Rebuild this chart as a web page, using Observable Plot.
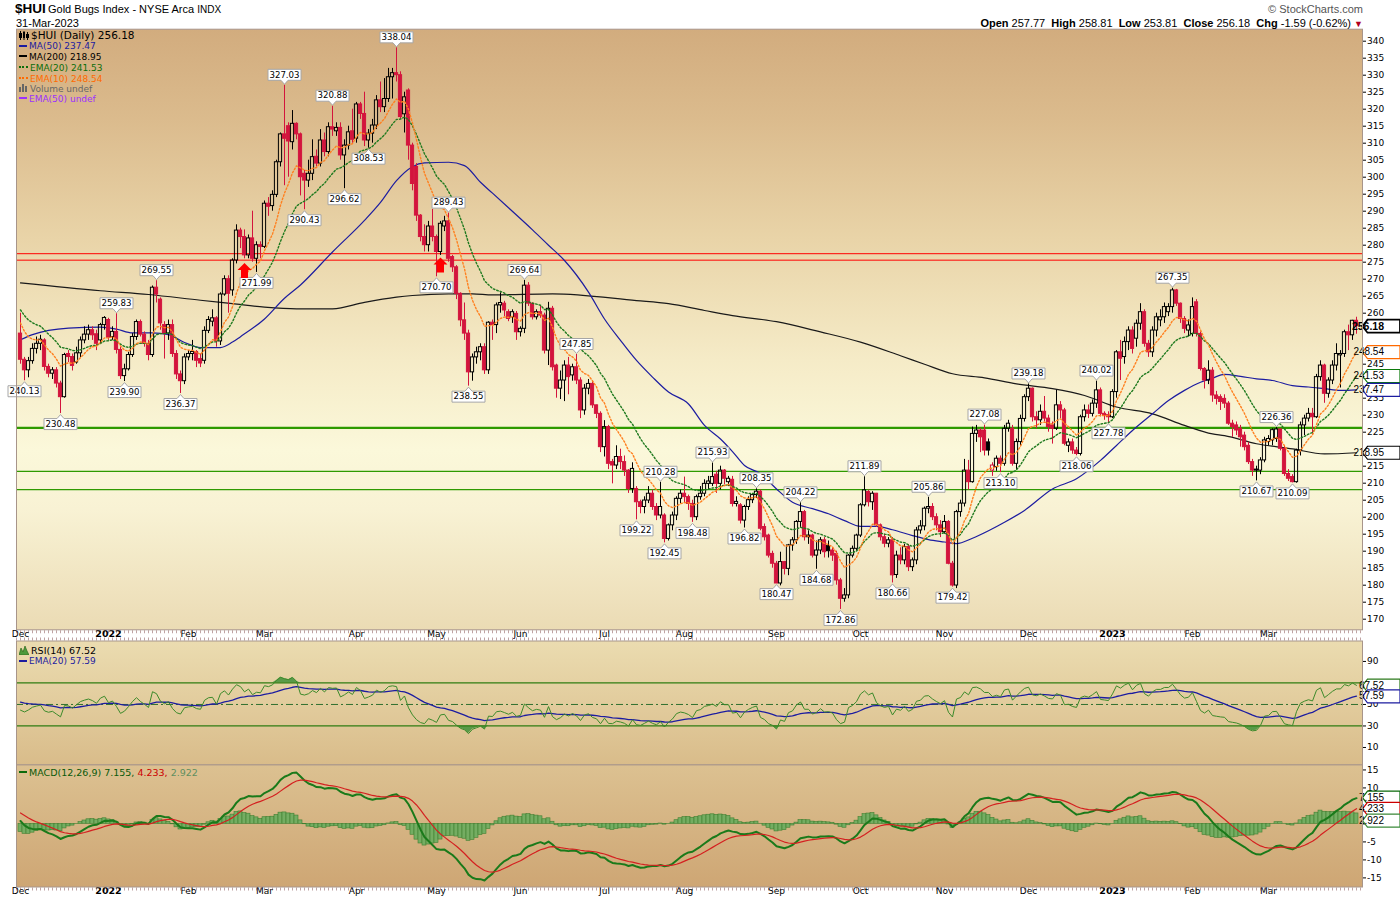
<!DOCTYPE html>
<html>
<head>
<meta charset="utf-8">
<script src="https://cdn.jsdelivr.net/npm/d3@7"></script>
<script src="https://cdn.jsdelivr.net/npm/@observablehq/plot@0.6"></script>
<style>
  html,body{margin:0;padding:0;background:#fff;}
  #wrap{position:relative;width:1400px;height:900px;overflow:hidden;font-family:"Liberation Sans",Arial,sans-serif;color:#000;}
  .t{position:absolute;white-space:nowrap;line-height:1;}
  .lg{font-family:"DejaVu Sans",Verdana,sans-serif;font-size:9px;}
  .ln{display:inline-block;width:8px;height:0;border-top:2px solid;vertical-align:middle;margin-right:2px;position:relative;top:-1px;}
  .dt{display:inline-block;width:9px;height:0;border-top:2px dotted;vertical-align:middle;margin-right:2px;position:relative;top:-1px;}
  .ic{display:inline-block;vertical-align:middle;margin-right:2px;position:relative;top:-1px;}
</style>
</head>
<body>
<svg width="0" height="0" style="position:absolute">
  <defs>
    <linearGradient id="gMain" x1="0" y1="0" x2="0" y2="1">
      <stop offset="0" stop-color="#d2ac7e"/>
      <stop offset="0.15" stop-color="#dbbb8d"/>
      <stop offset="0.35" stop-color="#e9d4a8"/>
      <stop offset="0.55" stop-color="#f5ebc7"/>
      <stop offset="0.7" stop-color="#fbf8da"/>
      <stop offset="0.8" stop-color="#f8f2d4"/>
      <stop offset="1" stop-color="#ebdbb4"/>
    </linearGradient>
    <linearGradient id="gRsi" x1="0" y1="0" x2="0" y2="1">
      <stop offset="0" stop-color="#ebdcb0"/>
      <stop offset="1" stop-color="#d9bc8a"/>
    </linearGradient>
    <linearGradient id="gMacd" x1="0" y1="0" x2="0" y2="1">
      <stop offset="0" stop-color="#dcc191"/>
      <stop offset="1" stop-color="#cea674"/>
    </linearGradient>
  </defs>
</svg>
<div id="wrap">
  <div class="t" style="left:15px;top:2px;font-size:13.5px;font-weight:bold;">$HUI</div>
  <div class="t" style="left:48px;top:4px;font-size:11px;">Gold Bugs Index - NYSE Arca <span style="font-size:10px">INDX</span></div>
  <div class="t" style="left:16px;top:17.5px;font-size:11px;">31-Mar-2023</div>
  <div class="t" style="right:37px;top:4px;font-size:11px;color:#555;">&#169; StockCharts.com</div>
  <div class="t" style="right:37px;top:17.5px;font-size:11px;"><b>Open</b> 257.77&nbsp; <b>High</b> 258.81&nbsp; <b>Low</b> 253.81&nbsp; <b>Close</b> 256.18&nbsp; <b>Chg</b> -1.59 (-0.62%) <span style="color:#b00020;font-size:9px">&#9660;</span></div>

  <div class="t" style="left:19px;top:30px;font-family:'DejaVu Sans',sans-serif;font-size:10.5px;"><svg class="ic" width="10" height="9"><rect x="0.5" y="2.5" width="2" height="4" fill="none" stroke="#000"/><line x1="1.5" y1="0" x2="1.5" y2="9" stroke="#000"/><rect x="4" y="1" width="2" height="6" fill="#000"/><line x1="5" y1="0" x2="5" y2="9" stroke="#000"/><rect x="7.5" y="3.5" width="2" height="3" fill="none" stroke="#000"/><line x1="8.5" y1="1" x2="8.5" y2="9" stroke="#000"/></svg>$HUI (Daily) 256.18</div>
  <div class="t lg" style="left:19px;top:42px;color:#1c1ca0;"><span class="ln" style="border-color:#1c1ca0"></span>MA(50) 237.47</div>
  <div class="t lg" style="left:19px;top:52.5px;color:#000;"><span class="ln" style="border-color:#000"></span>MA(200) 218.95</div>
  <div class="t lg" style="left:19px;top:63.5px;color:#0b6e0b;"><span class="dt" style="border-color:#0b6e0b"></span>EMA(20) 241.53</div>
  <div class="t lg" style="left:19px;top:74.5px;color:#ff6a00;"><span class="dt" style="border-color:#ff6a00"></span>EMA(10) 248.54</div>
  <div class="t lg" style="left:19px;top:84.5px;color:#666;"><svg class="ic" width="9" height="8"><rect x="0" y="3" width="2" height="5" fill="#666"/><rect x="3" y="0" width="2" height="8" fill="#666"/><rect x="6" y="2" width="2" height="6" fill="#666"/></svg>Volume undef</div>
  <div class="t lg" style="left:19px;top:94.5px;color:#9b30ff;"><span class="ln" style="border-color:#9b30ff"></span>EMA(50) undef</div>

  <div class="t lg" style="left:19px;top:646px;color:#000;font-size:9.5px;"><svg class="ic" width="10" height="9"><path d="M0,9 L2,2 L4,6 L6,0 L8,5 L10,9 Z" fill="#4c9a3c" stroke="#2c6a1c" stroke-width="0.7"/></svg>RSI(14) 67.52</div>
  <div class="t lg" style="left:19px;top:657px;color:#1c1ca0;"><span class="ln" style="border-color:#1c1ca0"></span>EMA(20) 57.59</div>
  <div class="t lg" style="left:19px;top:767.5px;font-size:9.5px;"><span class="ln" style="border-color:#0a6a0a"></span><span style="color:#0a5a0a">MACD(12,26,9) 7.155,</span> <span style="color:#cc0000">4.233,</span> <span style="color:#5f8f5f">2.922</span></div>
</div>
<script>
// ---------------- DATA ----------------
// trading-day index 0 = 1 Dec 2021 ... 334 = 31 Mar 2023
const monthIdx = [0,22,42,61,84,104,125,146,166,189,210,231,252,273,293,312];
const monthLbl = ["Dec","2022","Feb","Mar","Apr","May","Jun","Jul","Aug","Sep","Oct","Nov","Dec","2023","Feb","Mar"];

const opens = [
254,246.3,243.2,245.9,249.5,251,252,244.2,242.2,243.2,
239.3,235.3,248,247.1,245.5,248.2,252,253.7,255,253.8,
252,256.5,258,253,254.5,249.2,241.5,243.5,247.7,253,
257.4,253.7,251,247.7,267.5,264,256.5,254,256.5,248,
242,240,247,248,248.6,246.5,246,254.8,257.5,258.5,
251.7,265.5,270,266.7,275.5,284.3,282.4,277,282,276,
280,279.5,292.2,291.5,294.8,304.4,312.6,315,310.3,315.7,
312.6,301,299,301,306,304,310.8,307.4,314.7,313.5,
314.5,306.4,309.3,313.5,311.3,321.4,318.6,310.8,312.8,315.2,
322.6,320.6,323,329.4,330.6,330,318.5,325.5,309.3,303,
288.7,282.4,280,285.5,282.4,278,285.5,287,276.5,273.5,
265.7,257.9,254,242.6,247,248.5,250,243.2,257.2,256.5,
262.3,262.8,260.3,258.8,259.8,254.4,255.4,268.1,262.8,258.8,
260.3,259.3,249,261.3,244.6,237.8,240.2,244.6,241.7,244.1,
240.2,231.4,237.8,239.2,232.9,230.4,220.6,226.5,216.2,215.2,
217.7,216.2,213.7,208.3,208.3,204.4,203,204.9,206.9,203,
200.5,200.5,193.6,197.6,200.5,205.4,206.9,205.9,203.9,200,
205.9,206.9,209.8,209.8,212.5,209.8,213.7,210.3,211,203.9,
203.5,199,203,205,206.5,207.5,197.1,194.6,189.2,186.3,
180.5,186.8,184.8,191.7,193.2,198.6,201.5,194.6,194.6,188.7,
190.2,193.2,191.5,190.2,189.2,181.4,176,177,188.7,190.7,
194.6,203.5,207.4,204.4,206.9,197.6,194.1,192.2,193.2,183,
188.7,187.3,191.2,185.3,187.3,196.1,197.3,202.5,203,200,
197.6,195.6,198.6,186.3,179.9,201.5,204,213.7,210.3,224.5,
225.5,225.5,222,213.7,214.7,217.2,215.7,226,226,215.7,
222.1,228.9,235.3,237.8,229.4,228.5,231,229,227,226,
232.9,231.4,221,222,219.6,218.6,229.4,231.4,230.4,233.4,
237.3,230.4,230,229.4,236.8,248.5,247.1,251.5,254.9,252.5,
256.9,260.3,251,248.5,254.9,257.9,258.8,260.3,261.8,266.7,
262.8,258.3,254.9,253.9,263.2,253.9,243.6,240.2,243.1,235.8,
235.3,234.8,233.4,227.5,227,226,224,221,216.2,213.7,
213.7,216.7,222.1,222.6,223,225.8,220.1,212.7,211.8,210.3,
219.6,227,229,230.4,229.4,241.2,244.6,236.3,240.2,244.6,
247.6,248,254.4,253.5,257.77];

const highs = [
260,247,247,251,253,253.5,252.5,245,244,244,
240,248.2,249,248,250,253,256,256.5,256,255,
257,259,258.5,256,259.83,250,245,248.5,254,258,
258,254.5,252,268,269.55,264.5,257.5,258,258,249,
243,248,249,252,249,248,256,259,261,259,
266,271,271,276,286,285,284.5,283,290,281,
281,293,294,296,305,313,327.03,316,319.6,316,
313,302,305,311,308,314,313,316,320.88,316,
316,311,315,320,322,322,325,314,317,324,
328,329,332,332,338.04,331,325,326,310,304,
289,286,287,290.5,283,287,288.5,289.43,277,274,
266,263,255,248,250,251,251,257.5,258,263,
266,263.5,261,261,260.5,256,269.64,269,263,261,
262,260,263.2,262,245,243,246,247,245,247.85,
241,239,240.5,240,233,231,228.4,227,217,221,
220,218,214,216,209,205,206,209,208,204,
210.28,201,198,201.5,206,208,211.8,206.5,205,206.5,
209,211,212,215.93,213.5,215,214,212,212,206,
204,203.5,206,207,208.35,208,198,195,190,187,
189.7,187,192,194,199,204.22,202,196,195,193,
194,194,193,191,190,182,179,189,191.5,195,
204,211.89,208,207.5,207,198,195,194,194,190,
191,192,192,188,197,199,203,205.86,204,201,
199,200.5,199,187,202,205,217,216.7,226.5,227,
226,227.08,223,216,218,218,227,228.5,227,223,
230,236,239.18,238,231,233,235.5,230,228,237.3,
234,232,223,223,220.5,230,233,233,234.5,240.02,
238,231,231,237.5,249,252,253,256,256,258,
262.8,261,252,256,260,261,263,262.8,267.35,267,
263,259,258,264.5,264,254.5,244,246,244,237,
236,236,234,228.5,228,227,225,222,217,215,
217.5,223.5,224,226,226.36,226,221,214,212.5,220,
228,230,232,232,242,246,245,241,246,251,
249,255,256.5,257.9,258.81];

const lows = [
245,240.13,241,245,248,249,243,241,240.5,238,
230.48,235,245.5,243,245,247,251,252,252,249,
251,255,252,252,248,240.5,239.9,243,247,252,
253,250,246,247,263,255,246.5,252,247,240.5,
236.37,239,246,246,244,244,245,254,256,250,
250.5,265,260,265,274.5,279,276,276,275,271.99,
276,279,288.5,290,294,303,297.5,300,308,311,
294.5,290.43,297,299,303,303,306,306,312,312,
305,296.62,308,310,310,317,309,308.53,310,314,
319,319,322,323,328,317,313,305,296,287,
281,278,278,281,270.7,277,284,275,272,264,
256,252,238.55,240,245,246,242,242,252,254,
260,259,257.5,257,252,253,254,262,258,258,
258.5,248,244.6,243,235,234.6,234,236,240,239,
229,230,236,232,229,219,217.7,214,209.8,214,
214,212,207,207,199.22,201,201,204,202,199,
199.5,192.45,193,196,199,204,204,202,198.48,199,
205,206,208,209,207,208,209.5,209,203,203,
198,196.82,202,204,205.5,196,193,188,185,180.47,
179.8,183,182.8,190,192,197,193,192,188,184.68,
189,188,188,187,180,172.86,175,176,188,190,
194,203,203,202,197,193,191,191,180.66,182,
186,186,184,184,186,195,196,201,199,196,
194,195,186,179.42,179,200,203,208,210,222,
219,218,218,212,213.5,213.1,215,225,215,214,
221,228,234,228,226,227,228,225,221.5,225.5,
229,221,219,218.5,218.06,218,228,229,229.5,232,
229.5,228.5,227.78,229,235,240.2,245,249,248,250,
255,250,247,247,253,256,257,259,260,262,
257,254,253,253,253,243,237.7,239,233.8,233,
231.4,232,227,223.5,224,220.6,219.5,215.5,212,210.67,
212.5,216,221,221,222,219.5,212,210.5,210.09,210,
218,224,228,224,229,240,233.5,235,239,243,
238,247,249,252,253.81];

const closes = [
246.3,243.2,245.9,249.5,251,252.2,244.2,242.2,243.2,239.3,
235.3,247.7,247.1,244.5,248.2,252,253.7,255,253.5,251,
256.5,258.6,252.8,254.5,249.2,241.5,243.5,247.7,253,257.4,
253.7,251,247.7,267.5,265.5,257,254,256.5,248,242,
240,247,248,248.6,246,245.2,254.8,258,258.5,251.7,
265.5,270,265.7,275.5,284.3,282.4,277,282,276,280,
279.5,292.2,291.3,294.8,304.4,312.6,311.3,310.5,315.7,312.6,
300,299,301,305.9,304,310.8,307.4,314.7,314,314.5,
306.4,309.3,313.2,311,321.4,318.6,310.8,312.8,315.2,322.6,
320.6,323,329.4,330.6,330,317.7,323.5,309.3,298,288.7,
282.4,280,285.5,282.4,278,286.3,287,276,273.5,265.7,
257.9,254,242.6,247,248.5,250,243.2,257.2,256.5,262.3,
263,260.8,258.3,260.3,254.4,255.4,268.1,262.8,258.8,260.3,
259.3,249,261.3,244.1,237.8,240.2,244.6,241.2,244.1,240.2,
231.4,237.8,239.2,232.9,230.4,220.6,226.5,215.7,215.2,217.7,
216.2,213.7,208.3,214.2,204.4,203,204.9,206.9,203,200.5,
203,193.6,197.6,200.5,205.4,206.9,205.9,203.9,200,205.9,
206.9,209.8,210.5,211.8,209.8,213.7,211.3,211.3,203.9,204.5,
199,203,205,206.5,207.5,196.6,194.1,188.7,186.3,180.5,
186.8,184.8,191.7,193.2,198.6,201.5,194.1,194.1,188.7,190.2,
193.2,189.7,190,188.7,181.4,176,177,188.7,190.7,194.6,
203.5,207.9,204.4,206.9,197.6,194.1,192.2,193.2,182.9,188.7,
187.3,191.2,185.3,187.3,196.1,197.3,202.5,203,200,197.6,
195.6,198.6,186.3,179.9,201.5,204,213.7,210.3,224.5,225.5,
223.5,219.6,219.6,215.2,217.2,215.7,226,227.5,215.7,222.1,
228.9,235.3,237.8,229.4,228.5,231,229,226.5,226,232.9,
231.4,221.6,222,219.6,218.6,229.4,231.4,230.4,233.4,237.3,
230.4,229.9,229.4,236.8,248.5,246.6,251.5,254.9,249.5,256.9,
260.3,251,248.5,254.9,258.8,258.8,261.8,261.8,266.7,262.8,
258.3,255.4,256.4,261.8,253.9,243.6,240.2,243.1,235.8,234.8,
233.9,233.4,227.5,226.5,225.5,223.5,220.6,216.2,213.7,214,
216.7,222.6,223,225.6,225.8,220.1,212.7,211.3,210.3,219.6,
227,229,230.4,229.4,241.2,244.6,236.3,240.2,244.6,248,
248,254.4,253.5,257.77,256.18];

// moving averages (index, value)
const ma50Idx = [0,3,12,20,24,28,33,37,41,45,50,53,55,61,66,70,78,86,90,94,98,101,107,111,115,118,122,128,132,136,142,146,150,154,158,162,167,171,175,178,181,185,189,193,198,202,206,210,214,218,223,227,231,234,238,242,246,251,258,264,270,274,278,283,287,291,295,298,301,305,309,313,318,322,326,330,334];
const ma50Val = [252.2,253.7,255.6,255.9,255.3,254.2,254.2,253.7,251.4,249.9,249.9,251.5,253.1,258.3,264.4,268.3,278,287.3,292.6,299,303.1,304.2,304.4,303.4,298.5,295.3,291,284.5,280,275.5,266.2,258.3,252,246.1,241.2,236.8,233.3,227,223,219.3,215.2,212.8,208.3,204.4,202.5,201,199,197.3,197.3,196.3,194.6,193.4,192.7,192.2,193.8,196,198.5,202,208.3,211.3,216.7,221.1,225.5,230.4,234.3,237.3,239.7,240.9,242,241.4,240.7,240.2,238.7,238.3,237.8,237.3,237.47];
const ma200Idx = [0,20,32,45,53,61,69,78,86,94,98,107,113,118,133,154,162,171,178,189,200,210,220,226,233,241,249,258,266,274,283,291,298,301,309,318,326,334];
const ma200Val = [268.9,266.6,265.5,263.8,262.8,261.8,261.3,261.3,263.2,264.7,265.2,265.7,265.7,265.4,265.7,263.7,262.8,260.8,259.3,257.5,254.5,251.5,247.5,245,242.2,241,239.2,237.8,235.8,232.4,230.4,227,224.5,224,221.6,220.1,218.6,218.95];

// starting states of the indicators just before the first visible day
const prevClose0 = 253;
const seedEMA10 = 259.5, seedEMA20 = 262.5;
const seedEMA12 = 259.5, seedEMA26 = 257.5, seedSignal = 3.6;
const seedGain = 3.0, seedLoss = 3.2, seedRsiEma = 53;

// price annotations
const hiIdx = [24,34,66,78,94,107,126,139,160,173,184,195,211,227,241,252,269,288,314];
const loIdx = [1,10,26,40,59,71,81,87,104,112,154,161,168,181,189,199,205,218,233,245,264,272,309,318];
const arrowIdx = [56,105];
const arrowTip = [274.8,276.4];
const redLevels = [277.5,275.6];
const greenThick = [226.3];
const greenThin = [213.5,208.1];

// axis labels that are not hidden behind the value tags
const mainTicks = [170,175,180,185,190,195,200,205,210,215,225,230,235,245,260,265,270,275,280,285,290,295,300,305,310,315,320,325,330,335,340];
const rsiTicks = [10,30,50,90];
const macdTicks = [-15,-10,-5,0,10,15];

const mainTagVals = [256.18,248.54,241.53,237.47,218.95];
const mainTagCols = ["#000","#ff6a00","#0b7a0b","#1c1ca0","#000"];
const rsiTagVals = [67.52,57.59];
const rsiTagCols = ["#2c7a1c","#1c1ca0"];
const macdTagVals = [7.155,4.233,2.922];
const macdTagPos = [7.3,4.2,0.9];
const macdTagCols = ["#0a6a0a","#cc0000","#3a8a3a"];

// ---------------- derived ----------------
const RED = "#d3143d";
function ema(vals, n, seed){ const k = 2/(n+1); let p = seed; return vals.map(v => (p = p + k*(v - p))); }
function rsi(vals, n, prev, g0, l0){
  let ag = g0, al = l0, pc = prev;
  return vals.map(v => { const ch = v - pc; pc = v; ag = (ag*(n-1) + Math.max(ch,0))/n; al = (al*(n-1) + Math.max(-ch,0))/n; return 100 - 100/(1 + ag/al); });
}
const candles = closes.map((c,i) => {
  const o = opens[i], pc = i ? closes[i-1] : prevClose0, red = c < pc;
  let top = Math.max(o,c), bot = Math.min(o,c);
  if (top - bot < 0.3) { const m = (top+bot)/2; top = m + 0.15; bot = m - 0.15; }
  return {i, o, c, h: Math.max(highs[i], top), l: Math.min(lows[i], bot), top, bot,
          col: red ? RED : "#000", fill: c < o ? (red ? RED : "#000") : "none"};
});
const e10 = ema(closes,10,seedEMA10), e20 = ema(closes,20,seedEMA20);
const emaData = closes.map((c,i)=>({i, e10:e10[i], e20:e20[i]}));
const ma50 = ma50Idx.map((i,k)=>({i, v:ma50Val[k]}));
const ma200 = ma200Idx.map((i,k)=>({i, v:ma200Val[k]}));
const rsiV = rsi(closes,14,prevClose0,seedGain,seedLoss);
const rsiE = ema(rsiV,20,seedRsiEma);
const rsiData = rsiV.map((r,i)=>({i, r, e: rsiE[i]}));
const m12 = ema(closes,12,seedEMA12), m26 = ema(closes,26,seedEMA26);
const macd = m12.map((v,i)=>v - m26[i]);
const sig = ema(macd,9,seedSignal);
const macdData = macd.map((m,i)=>({i, m, s: sig[i], h: m - sig[i]}));
const hiLabels = hiIdx.map(i=>({i, v: highs[i]}));
const loLabels = loIdx.map(i=>({i, v: lows[i]}));
const arrows = arrowIdx.map((i,k)=>({i, v: arrowTip[k]}));
const months = monthIdx.map((i,k)=>({i, t: monthLbl[k], year: /^\d{4}$/.test(monthLbl[k])}));
const mainTags = mainTagVals.map((v,k)=>({v, col: mainTagCols[k], k}));
const rsiTags = rsiTagVals.map((v,k)=>({v, col: rsiTagCols[k]}));
const macdTags = macdTagVals.map((v,k)=>({v, p: macdTagPos[k], col: macdTagCols[k]}));

// custom shapes (pixel space, relative to the anchor point)
const hiBox = {draw(c){ c.moveTo(0,-1); c.lineTo(3.5,-5); c.lineTo(16.5,-5); c.lineTo(16.5,-16); c.lineTo(-16.5,-16); c.lineTo(-16.5,-5); c.lineTo(-3.5,-5); c.closePath(); }};
const loBox = {draw(c){ c.moveTo(0,1); c.lineTo(3.5,5); c.lineTo(16.5,5); c.lineTo(16.5,16); c.lineTo(-16.5,16); c.lineTo(-16.5,5); c.lineTo(-3.5,5); c.closePath(); }};
const upArrow = {draw(c){ c.moveTo(0,0); c.lineTo(7,7); c.lineTo(3.5,7); c.lineTo(3.5,15); c.lineTo(-3.5,15); c.lineTo(-3.5,7); c.lineTo(-7,7); c.closePath(); }};
const tagShape = {draw(c){ c.moveTo(0,0); c.lineTo(5,-6.5); c.lineTo(37.5,-6.5); c.lineTo(37.5,6.5); c.lineTo(5,6.5); c.closePath(); }};

const FONT = "DejaVu Sans, Verdana, sans-serif";
const TAGFONT = "Liberation Sans, Arial, sans-serif";
const baseStyle = {background:"transparent", overflow:"visible", fontFamily: FONT, fontSize:"9px", color:"#000"};
const XD = [-1, 335.5];
const FRAME = "#a8958a";

// ---------------- MAIN PANEL ----------------
const mainPlot = Plot.plot({
  width: 1400, height: 645,
  marginTop: 28.7, marginBottom: 15.7, marginLeft: 16, marginRight: 38,
  x: {domain: XD, axis: null},
  y: {domain: [166.88, 343.53]},
  color: {type: "identity"},
  style: baseStyle,
  marks: [
    Plot.frame({fill: "url(#gMain)", stroke: "none"}),
    Plot.ruleY(redLevels, {stroke: "#ff0000", strokeWidth: 1}),
    Plot.ruleY(greenThick, {stroke: "#2e9a00", strokeWidth: 2.2}),
    Plot.ruleY(greenThin, {stroke: "#2e9a00", strokeWidth: 1.2}),
    Plot.line(ma200, {x: "i", y: "v", stroke: "#1a1a1a", strokeWidth: 1.2, curve: "monotone-x"}),
    Plot.line(ma50, {x: "i", y: "v", stroke: "#1c1ca0", strokeWidth: 1.2, curve: "monotone-x"}),
    Plot.ruleX(candles, {x: "i", y1: "top", y2: "h", stroke: "col", strokeWidth: 1}),
    Plot.ruleX(candles, {x: "i", y1: "l", y2: "bot", stroke: "col", strokeWidth: 1}),
    Plot.rect(candles, {x1: d => d.i - 0.4, x2: d => d.i + 0.4, y1: "bot", y2: "top", fill: "fill", stroke: "col", strokeWidth: 1}),
    Plot.line(emaData, {x: "i", y: "e20", stroke: "#1f7a1f", strokeWidth: 1.4, strokeDasharray: "1.6,2"}),
    Plot.line(emaData, {x: "i", y: "e10", stroke: "#ff8020", strokeWidth: 1.4, strokeDasharray: "1.6,2"}),
    Plot.dot(hiLabels, {x: "i", y: "v", symbol: hiBox, fill: "white", stroke: "#a6a6a6", strokeWidth: 1}),
    Plot.text(hiLabels, {x: "i", y: "v", dy: -10.5, text: d => d.v.toFixed(2), fontSize: 8.6, fontFamily: FONT, fill: "#000"}),
    Plot.dot(loLabels, {x: "i", y: "v", symbol: loBox, fill: "white", stroke: "#a6a6a6", strokeWidth: 1}),
    Plot.text(loLabels, {x: "i", y: "v", dy: 10.5, text: d => d.v.toFixed(2), fontSize: 8.6, fontFamily: FONT, fill: "#000"}),
    Plot.dot(arrows, {x: "i", y: "v", symbol: upArrow, fill: "#ff0000", stroke: "none"}),
    Plot.axisY({anchor: "right", ticks: mainTicks, tickSize: 3, tickPadding: 1.5, label: null, tickFormat: d => String(d), fontSize: 9}),
    Plot.ruleY([166.88], {stroke: "#c0a4a4", strokeWidth: 3, strokeDasharray: "1,3", dy: 2}),
    Plot.text(months.filter(d => !d.year), {x: "i", text: "t", frameAnchor: "bottom", dy: 7.5, fontSize: 9, fontFamily: FONT}),
    Plot.text(months.filter(d => d.year), {x: "i", text: "t", frameAnchor: "bottom", dy: 7.5, fontSize: 9.5, fontWeight: "bold", fontFamily: FONT}),
    Plot.dot(mainTags, {y: "v", frameAnchor: "right", symbol: tagShape, fill: "white", stroke: "col", strokeWidth: d => d.k === 0 ? 1.8 : 1.2}),
    Plot.text(mainTags.filter(d => d.k === 0), {y: "v", frameAnchor: "right", dx: 21.5, text: d => d.v.toFixed(2), fontSize: 10.5, fontWeight: "bold", fontFamily: TAGFONT}),
    Plot.text(mainTags.filter(d => d.k > 0), {y: "v", frameAnchor: "right", dx: 21.5, text: d => d.v.toFixed(2), fontSize: 10, fontFamily: TAGFONT}),
    Plot.frame({stroke: FRAME})
  ]
});

// ---------------- RSI PANEL ----------------
const rsiPlot = Plot.plot({
  width: 1400, height: 126,
  marginTop: 0.5, marginBottom: 1.6, marginLeft: 16, marginRight: 38,
  x: {domain: XD, axis: null},
  y: {domain: [-6.2, 109]},
  color: {type: "identity"},
  style: baseStyle,
  marks: [
    Plot.frame({fill: "url(#gRsi)", stroke: "none"}),
    Plot.ruleY([109], {stroke: "#c0a4a4", strokeWidth: 3, strokeDasharray: "1,3", dy: -2}),
    Plot.areaY(rsiData, {x: "i", y1: 70, y2: d => Math.max(d.r, 70), fill: "#5a9a48"}),
    Plot.areaY(rsiData, {x: "i", y1: d => Math.min(d.r, 30), y2: 30, fill: "#5a9a48"}),
    Plot.ruleY([70, 30], {stroke: "#2f7d12", strokeWidth: 1.3}),
    Plot.ruleY([50], {stroke: "#2f6f2f", strokeWidth: 1, strokeDasharray: "7,3,2,3"}),
    Plot.line(rsiData, {x: "i", y: "e", stroke: "#1c1ca0", strokeWidth: 1.3}),
    Plot.line(rsiData, {x: "i", y: "r", stroke: "#3c8a2a", strokeWidth: 1}),
    Plot.axisY({anchor: "right", ticks: rsiTicks, tickSize: 3, tickPadding: 1.5, label: null, tickFormat: d => String(d), fontSize: 9}),
    Plot.dot(rsiTags, {y: "v", frameAnchor: "right", symbol: tagShape, fill: "white", stroke: "col", strokeWidth: 1.2}),
    Plot.text(rsiTags, {y: "v", frameAnchor: "right", dx: 21.5, text: d => d.v.toFixed(2), fontSize: 10, fontFamily: TAGFONT}),
    Plot.frame({stroke: FRAME})
  ]
});

// ---------------- MACD PANEL ----------------
const macdPlot = Plot.plot({
  width: 1400, height: 140,
  marginTop: 4.4, marginBottom: 13.5, marginLeft: 16, marginRight: 38,
  x: {domain: XD, axis: null},
  y: {domain: [-17.53, 16.4]},
  color: {type: "identity"},
  style: baseStyle,
  marks: [
    Plot.frame({fill: "url(#gMacd)", stroke: "none"}),
    Plot.rect(macdData, {x1: d => d.i - 0.5, x2: d => d.i + 0.5, y1: 0, y2: "h", fill: "#74ad62", stroke: "#3f7f30", strokeWidth: 0.6}),
    Plot.line(macdData, {x: "i", y: "m", stroke: "#1a7a1a", strokeWidth: 2}),
    Plot.line(macdData, {x: "i", y: "s", stroke: "#d42020", strokeWidth: 1.2}),
    Plot.axisY({anchor: "right", ticks: macdTicks, tickSize: 3, tickPadding: 1.5, label: null, tickFormat: d => String(d), fontSize: 9}),
    Plot.ruleY([-17.53], {stroke: "#c0a4a4", strokeWidth: 3, strokeDasharray: "1,3", dy: 2}),
    Plot.text(months.filter(d => !d.year), {x: "i", text: "t", frameAnchor: "bottom", dy: 7, fontSize: 9, fontFamily: FONT}),
    Plot.text(months.filter(d => d.year), {x: "i", text: "t", frameAnchor: "bottom", dy: 7, fontSize: 9.5, fontWeight: "bold", fontFamily: FONT}),
    Plot.dot(macdTags, {y: "p", frameAnchor: "right", symbol: tagShape, fill: "white", stroke: "col", strokeWidth: 1.2}),
    Plot.text(macdTags, {y: "p", frameAnchor: "right", dx: 21.5, text: d => d.v.toFixed(3), fontSize: 10, fontFamily: TAGFONT}),
    Plot.frame({stroke: FRAME})
  ]
});

const wrap = document.getElementById("wrap");
function place(svg, top){ svg.style.position = "absolute"; svg.style.left = "0px"; svg.style.top = top + "px"; wrap.insertBefore(svg, wrap.firstChild); }
place(macdPlot, 760);
place(rsiPlot, 640);
place(mainPlot, 0);
</script>
</body>
</html>
